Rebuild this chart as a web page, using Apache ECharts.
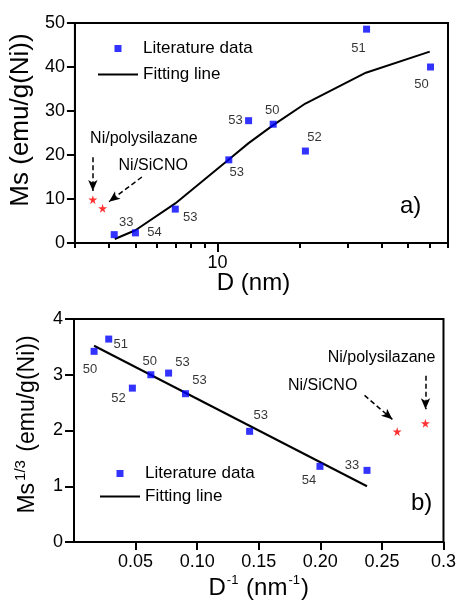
<!DOCTYPE html>
<html lang="en">
<head>
    <meta charset="UTF-8">
    <title>Ms vs D</title>
    <script src="https://cdn.jsdelivr.net/npm/echarts@6/dist/echarts.min.js"></script>
    <style>
        html, body { margin: 0; padding: 0; background: #fff; }
    </style>
</head>
<body>
    <div id="main" style="width: 459px; height: 603px;"></div>
    <script>
        // ---- panel a) Ms vs D (log x) ----
        const litD = [4.18, 5.0, 7.0, 11.0, 13.0, 16.0, 21.0, 35.2, 60.4];
        const litMs = [1.9, 2.3, 7.7, 18.9, 27.8, 27.0, 20.9, 48.6, 40.0];
        const litRefsA = ['33', '54', '53', '53', '53', '50', '52', '51', '50'];
        const fitD = [4.2, 5, 7, 11, 13, 16, 21, 35, 60];
        const fitMs = [0.9, 2.9, 9.0, 19.0, 22.7, 26.8, 31.7, 38.7, 43.5];
        const starNames = ['Ni/polysilazane', 'Ni/SiCNO'];
        const starD = [3.49, 3.79];
        const starMs = [9.85, 7.9];
        const dTicks = [3, 4, 5, 6, 7, 8, 9, 20, 30, 40, 50, 60, 70];
        const dRange = [3, 70];
        const msRange = [0, 50];

        // ---- panel b) Ms^(1/3) vs 1/D ----
        const invD = [0.0163, 0.0282, 0.0474, 0.0624, 0.0768, 0.0905, 0.1426, 0.1997, 0.2379];
        const msCube = [3.42, 3.64, 2.76, 3.00, 3.03, 2.66, 1.985, 1.357, 1.285];
        const litRefsB = ['50', '51', '52', '50', '53', '53', '53', '54', '33'];
        const fitInvD = [0.0163, 0.2379];
        const fitCube = [3.52, 1.0];
        const starInvD = [0.2853, 0.2624];
        const starCube = [2.13, 1.98];

        // label offsets (layout only)
        const offA = [[12, -12], [19, 0], [15, 8], [8, 13], [-13, 0], [-1, -14], [9, -14], [-8, 19], [-9, 17]];
        const offB = [[-4, 18], [12, 5], [-14, 10], [-1, -13], [14, -11], [14, -13], [11, -16], [-11, 14], [-15, -5]];

        const FONT = 'Liberation Sans, Arial, sans-serif';
        const STAR = 'path://M50,0 L61,35 L98,35 L68,57 L79,91 L50,70 L21,91 L32,57 L2,35 L39,35 Z';
        const chart = echarts.init(document.getElementById('main'), null, { renderer: 'canvas' });

        function pts(xs, ys, refs, offs) {
            return xs.map((x, i) => {
                const item = { value: [x, ys[i]] };
                if (refs) {
                    item.name = refs[i];
                    item.label = { show: true, formatter: refs[i], position: 'inside', offset: offs[i] };
                }
                return item;
            });
        }

        const arrow = {
            symbol: ['none', 'arrow'],
            symbolSize: [7, 11],
            silent: true,
            label: { show: false },
            lineStyle: { color: '#000', type: [5, 3], width: 1.5 },
            itemStyle: { color: '#000' }
        };
        const noteLabel = {
            show: true, position: 'inside', color: '#000',
            fontFamily: FONT, fontSize: 16
        };

        const labelStyle = { color: '#000', fontFamily: FONT, fontSize: 13 };
        const legendData = [
            { name: 'Literature data', icon: 'path://M0,0h8v8h-8z' },
            { name: 'Fitting line', icon: 'path://M0,0h40v2h-40z' }
        ];

        const option = {
            animation: false,
            backgroundColor: '#fff',
            grid: [
                { left: 72, top: 23, width: 376, height: 220, show: true, borderColor: '#000', borderWidth: 2, backgroundColor: 'transparent' },
                { left: 74, top: 319, width: 378, height: 223, show: true, borderColor: '#000', borderWidth: 2, backgroundColor: 'transparent' }
            ],
            legend: [
                {
                    left: 93, top: 35, orient: 'vertical', itemWidth: 40, itemHeight: 7, itemGap: 9,
                    textStyle: { fontFamily: FONT, fontSize: 17, color: '#000' },
                    data: legendData
                },
                {
                    left: 95, top: 460, orient: 'vertical', itemWidth: 40, itemHeight: 7, itemGap: 6,
                    textStyle: { fontFamily: FONT, fontSize: 17, color: '#000' },
                    data: legendData
                }
            ],
            xAxis: [
                {
                    gridIndex: 0, type: 'log', logBase: 10, min: dRange[0], max: dRange[1], position: 'bottom',
                    name: 'D (nm)', nameLocation: 'middle', nameGap: 28,
                    nameTextStyle: { fontFamily: FONT, fontSize: 24, color: '#000', padding: [0, 16, 0, 0] },
                    axisLine: { lineStyle: { color: '#000', width: 2 } },
                    axisTick: { inside: false, length: 5, lineStyle: { width: 2 }, customValues: dTicks },
                    axisLabel: { show: false },
                    splitLine: { show: false }, minorTick: { show: false }
                },
                {
                    gridIndex: 0, type: 'log', logBase: 10, min: dRange[0], max: dRange[1], position: 'bottom',
                    axisLine: { show: false },
                    axisTick: { length: 9, lineStyle: { width: 2, color: '#000' }, customValues: [10] },
                    axisLabel: { customValues: [10], margin: 11, fontFamily: FONT, fontSize: 18, color: '#000' },
                    splitLine: { show: false }
                },
                {
                    gridIndex: 1, type: 'value', min: 0, max: 0.3, interval: 0.05,
                    name: '{n|D}{s|-1}{n| (nm}{s|-1}{n|)}', nameLocation: 'middle', nameGap: 32,
                    nameTextStyle: {
                        rich: {
                            n: { fontFamily: FONT, fontSize: 24, color: '#000', lineHeight: 28 },
                            s: { fontFamily: FONT, fontSize: 13, color: '#000', verticalAlign: 'top', lineHeight: 28, padding: [0, 1, 12, 1] }
                        }
                    },
                    axisLine: { lineStyle: { color: '#000', width: 2 } },
                    axisTick: { length: 8, lineStyle: { width: 2 } },
                    axisLabel: {
                        margin: 11, fontFamily: FONT, fontSize: 18, color: '#000', showMinLabel: false,
                        formatter: v => (v === 0 ? '' : (Math.abs(v - 0.3) < 1e-9 ? '0.3' : v.toFixed(2)))
                    },
                    splitLine: { show: false }
                }
            ],
            yAxis: [
                {
                    gridIndex: 0, type: 'value', min: msRange[0], max: msRange[1], interval: 10,
                    name: 'Ms (emu/g(Ni))', nameLocation: 'middle', nameGap: 35,
                    nameTextStyle: { fontFamily: FONT, fontSize: 26, color: '#000', padding: [0, 0, 0, 26] },
                    axisLine: { lineStyle: { color: '#000', width: 2 } },
                    axisTick: { length: 8, lineStyle: { width: 2 } },
                    axisLabel: { margin: 10, fontFamily: FONT, fontSize: 18, color: '#000' },
                    splitLine: { show: false }
                },
                {
                    gridIndex: 1, type: 'value', min: 0, max: 4, interval: 1,
                    name: '{m|Ms}{s|1/3}{m| (emu/g(Ni))}', nameLocation: 'middle', nameGap: 27,
                    nameTextStyle: {
                        padding: [0, 0, 0, 12],
                        rich: {
                            m: { fontFamily: FONT, fontSize: 23, color: '#000', lineHeight: 30 },
                            s: { fontFamily: FONT, fontSize: 15, color: '#000', verticalAlign: 'top', lineHeight: 30, padding: [0, 2, 14, 2] }
                        }
                    },
                    axisLine: { lineStyle: { color: '#000', width: 2 } },
                    axisTick: { length: 9, lineStyle: { width: 2 } },
                    axisLabel: { margin: 11, fontFamily: FONT, fontSize: 18, color: '#000' },
                    splitLine: { show: false }
                }
            ],
            graphic: [
                { type: 'text', left: 400, top: 194, style: { text: 'a)', fontFamily: FONT, fontSize: 24, fill: '#000' } },
                { type: 'text', left: 411, top: 491, style: { text: 'b)', fontFamily: FONT, fontSize: 24, fill: '#000' } }
            ],
            series: [
                {
                    name: 'Fitting line', type: 'line', xAxisIndex: 0, yAxisIndex: 0,
                    data: fitD.map((d, i) => [d, fitMs[i]]),
                    symbol: 'none', lineStyle: { color: '#000', width: 2 }, itemStyle: { color: '#000' },
                    z: 2,
                    // top and right edges of panel a), placed on the axis limits
                    markLine: {
                        silent: true, symbol: 'none', label: { show: false },
                        lineStyle: { color: '#000', type: 'solid', width: 2 },
                        data: [{ yAxis: msRange[1] }, { xAxis: dRange[1] }]
                    }
                },
                {
                    name: 'Literature data', type: 'scatter', xAxisIndex: 0, yAxisIndex: 0,
                    data: pts(litD, litMs, litRefsA, offA),
                    symbol: 'rect', symbolSize: 7, itemStyle: { color: '#0000ff' },
                    label: labelStyle, z: 3
                },
                {
                    name: 'Ni composites a', type: 'scatter', xAxisIndex: 0, yAxisIndex: 0,
                    data: starD.map((d, i) => [d, starMs[i]]),
                    symbol: STAR, symbolSize: 9, itemStyle: { color: '#ff0000' }, z: 3,
                    markLine: Object.assign({}, arrow, {
                        data: [
                            [{ coord: [3.49, 19.5] }, { coord: [3.49, 11.8] }],
                            [{ coord: [5.28, 15.0] }, { coord: [4.0, 9.4] }]
                        ]
                    }),
                    markPoint: {
                        symbol: 'circle', symbolSize: 1, itemStyle: { color: 'rgba(0,0,0,0)' }, silent: true,
                        label: noteLabel,
                        data: [
                            { name: starNames[0], coord: [5.37, 23.8], label: { formatter: starNames[0] } },
                            { name: starNames[1], coord: [5.81, 17.5], label: { formatter: starNames[1] } }
                        ]
                    }
                },
                {
                    name: 'Fitting line', type: 'line', xAxisIndex: 2, yAxisIndex: 1,
                    data: fitInvD.map((x, i) => [x, fitCube[i]]),
                    symbol: 'none', lineStyle: { color: '#000', width: 2 }, itemStyle: { color: '#000' },
                    z: 2
                },
                {
                    name: 'Literature data', type: 'scatter', xAxisIndex: 2, yAxisIndex: 1,
                    data: pts(invD, msCube, litRefsB, offB),
                    symbol: 'rect', symbolSize: 7, itemStyle: { color: '#0000ff' },
                    label: labelStyle, z: 3
                },
                {
                    name: 'Ni composites b', type: 'scatter', xAxisIndex: 2, yAxisIndex: 1,
                    data: starInvD.map((x, i) => [x, starCube[i]]),
                    symbol: STAR, symbolSize: 9, itemStyle: { color: '#ff0000' }, z: 3,
                    markLine: Object.assign({}, arrow, {
                        data: [
                            [{ coord: [0.2854, 2.98] }, { coord: [0.2854, 2.38] }],
                            [{ coord: [0.2359, 2.63] }, { coord: [0.2585, 2.20] }]
                        ]
                    }),
                    markPoint: {
                        symbol: 'circle', symbolSize: 1, itemStyle: { color: 'rgba(0,0,0,0)' }, silent: true,
                        label: noteLabel,
                        data: [
                            { name: starNames[0], coord: [0.2497, 3.31], label: { formatter: starNames[0] } },
                            { name: starNames[1], coord: [0.2019, 2.81], label: { formatter: starNames[1] } }
                        ]
                    }
                }
            ]
        };
        chart.setOption(option);
    </script>
</body>
</html>
